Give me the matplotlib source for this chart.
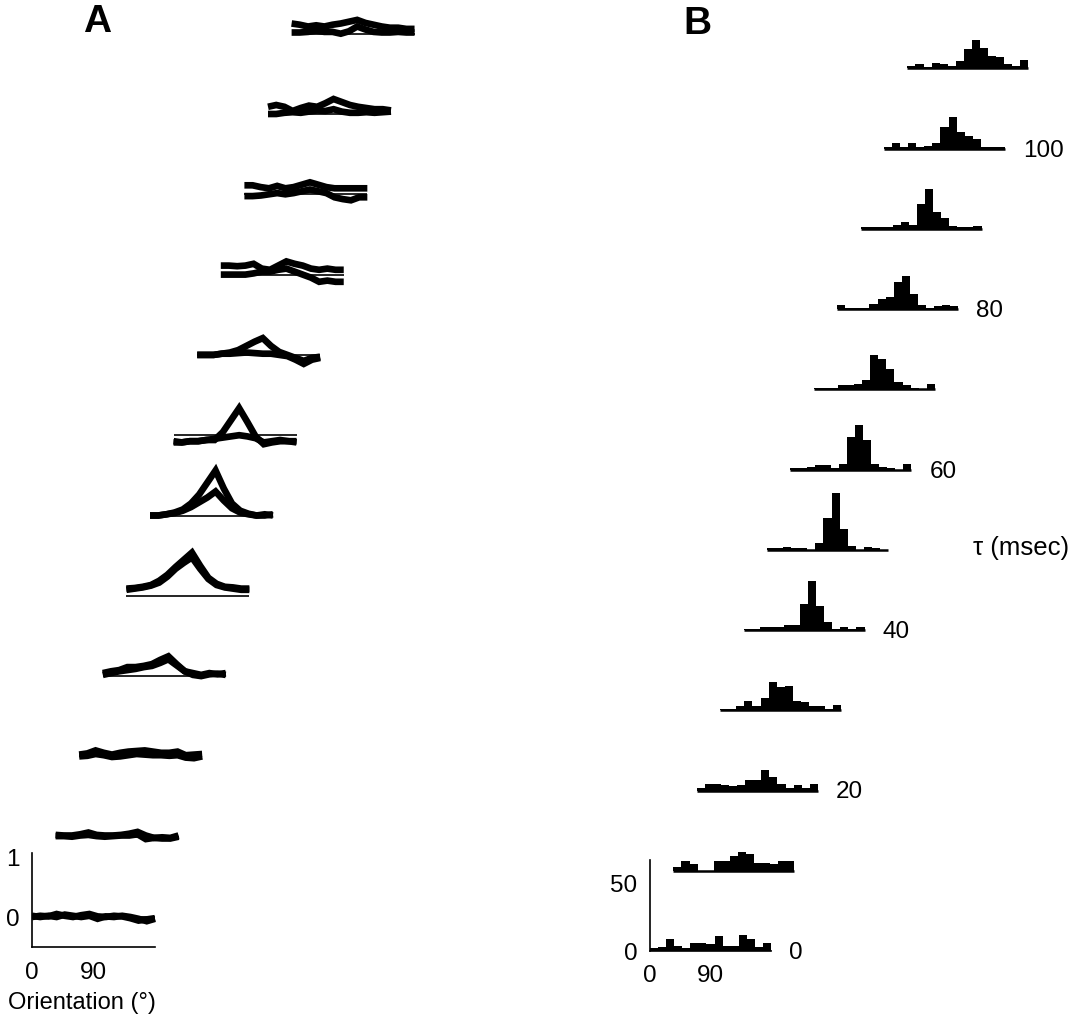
import numpy as np
import matplotlib
matplotlib.use("Agg")
import matplotlib.pyplot as plt

plt.rcParams['font.family'] = ['Liberation Sans', 'DejaVu Sans']

# ---------------------------------------------------------------- data
delays = [0, 10, 20, 30, 40, 50, 60, 70, 80, 90, 100, 110]      # msec
orient = np.arange(0, 181, 12)                                  # deg

# Panel A: normalised orientation tuning at each delay (two curves)
tuning_1 = [
    [0.00, 0.02, 0.01, 0.05, 0.02, 0.00, 0.03, 0.05, 0.01, 0.00, 0.02, 0.01, -0.02, -0.06, -0.04, -0.02],
    [0.03, 0.02, 0.02, 0.04, 0.07, 0.03, 0.02, 0.02, 0.03, 0.05, 0.08, 0.02, -0.02, -0.01, -0.02, 0.02],
    [0.03, 0.05, 0.10, 0.06, 0.03, 0.06, 0.08, 0.09, 0.10, 0.08, 0.06, 0.06, 0.08, 0.02, 0.03, 0.04],
    [0.05, 0.08, 0.10, 0.15, 0.15, 0.17, 0.20, 0.27, 0.33, 0.20, 0.08, 0.05, 0.02, 0.05, 0.03, 0.05],
    [0.12, 0.13, 0.15, 0.18, 0.25, 0.35, 0.48, 0.60, 0.72, 0.50, 0.30, 0.20, 0.15, 0.14, 0.12, 0.12],
    [0.00, 0.00, 0.02, 0.05, 0.10, 0.20, 0.35, 0.55, 0.75, 0.45, 0.20, 0.08, 0.03, 0.00, 0.02, 0.00],
    [-0.12, -0.12, -0.10, -0.10, -0.08, -0.08, 0.05, 0.25, 0.45, 0.22, -0.02, -0.15, -0.12, -0.10, -0.10, -0.12],
    [0.00, 0.00, 0.00, 0.02, 0.04, 0.08, 0.15, 0.22, 0.28, 0.15, 0.05, 0.00, -0.05, -0.10, -0.05, -0.03],
    [0.15, 0.15, 0.14, 0.15, 0.18, 0.10, 0.08, 0.15, 0.22, 0.18, 0.15, 0.10, 0.08, 0.10, 0.08, 0.08],
    [0.15, 0.15, 0.12, 0.10, 0.14, 0.10, 0.12, 0.16, 0.20, 0.16, 0.12, 0.10, 0.10, 0.10, 0.10, 0.10],
    [0.12, 0.15, 0.12, 0.05, 0.10, 0.14, 0.12, 0.18, 0.25, 0.20, 0.15, 0.12, 0.10, 0.08, 0.08, 0.06],
    [0.17, 0.15, 0.12, 0.14, 0.12, 0.15, 0.17, 0.20, 0.23, 0.18, 0.15, 0.12, 0.10, 0.10, 0.08, 0.08],
]
tuning_2 = [
    [0.02, 0.00, 0.02, 0.00, 0.04, 0.02, 0.00, 0.02, -0.03, 0.01, 0.00, 0.02, 0.00, -0.03, -0.07, -0.03],
    [0.01, 0.01, 0.00, 0.02, 0.03, 0.01, 0.00, 0.01, 0.02, 0.02, 0.04, -0.04, -0.02, -0.03, -0.03, 0.00],
    [0.00, 0.01, 0.04, 0.02, -0.01, 0.00, 0.02, 0.04, 0.03, 0.02, 0.02, 0.01, 0.02, -0.02, -0.03, 0.00],
    [0.02, 0.05, 0.08, 0.10, 0.12, 0.15, 0.17, 0.22, 0.28, 0.18, 0.08, 0.02, 0.00, 0.03, 0.04, 0.02],
    [0.10, 0.12, 0.14, 0.17, 0.22, 0.32, 0.45, 0.55, 0.64, 0.45, 0.28, 0.18, 0.14, 0.12, 0.10, 0.10],
    [0.00, 0.00, 0.02, 0.04, 0.08, 0.14, 0.22, 0.30, 0.40, 0.25, 0.12, 0.05, 0.02, 0.00, 0.00, 0.02],
    [-0.10, -0.12, -0.10, -0.10, -0.08, -0.06, -0.04, -0.02, 0.00, -0.02, -0.05, -0.12, -0.10, -0.08, -0.10, -0.10],
    [0.00, 0.00, 0.00, 0.02, 0.02, 0.03, 0.04, 0.03, 0.02, 0.02, 0.00, -0.02, -0.08, -0.15, -0.08, -0.05],
    [0.00, 0.00, 0.00, 0.00, 0.02, 0.05, 0.05, 0.08, 0.10, 0.05, 0.00, -0.05, -0.12, -0.10, -0.12, -0.12],
    [-0.03, -0.03, -0.02, 0.00, 0.02, 0.00, 0.02, 0.05, 0.08, 0.05, 0.02, -0.05, -0.08, -0.10, -0.05, -0.05],
    [0.00, 0.00, 0.02, 0.03, 0.02, 0.04, 0.06, 0.05, 0.08, 0.04, 0.02, 0.02, 0.03, 0.02, 0.03, 0.04],
    [0.02, 0.02, 0.03, 0.05, 0.03, 0.03, 0.00, 0.04, 0.12, 0.07, 0.03, 0.02, 0.02, 0.03, 0.02, 0.02],
]

# Panel B: histogram of preferred orientation at each delay
bin_left = np.arange(0, 180, 12)
bin_width = 12
counts = [
    [2, 3, 9, 4, 2, 6, 6, 5, 11, 4, 4, 12, 9, 3, 6],
    [3, 7, 5, 0, 0, 7, 7, 11, 14, 12, 6, 6, 5, 7, 7],
    [2, 5, 5, 4, 3, 4, 8, 8, 15, 10, 5, 2, 4, 2, 5],
    [1, 1, 3, 7, 3, 9, 21, 17, 18, 7, 6, 3, 3, 1, 4],
    [1, 1, 2, 2, 2, 4, 4, 19, 36, 18, 6, 1, 2, 1, 2],
    [1, 1, 2, 1, 1, 0, 5, 23, 42, 15, 3, 0, 2, 1, 0],
    [1, 1, 2, 3, 3, 1, 4, 24, 33, 22, 4, 2, 1, 0, 4],
    [1, 1, 1, 3, 3, 4, 7, 25, 22, 15, 5, 3, 1, 0, 4],
    [3, 1, 1, 1, 4, 7, 9, 20, 24, 11, 3, 1, 2, 3, 2],
    [1, 1, 1, 1, 3, 5, 3, 18, 29, 12, 8, 2, 1, 1, 2],
    [1, 4, 1, 4, 1, 2, 4, 16, 23, 12, 9, 7, 1, 1, 1],
    [2, 3, 1, 4, 3, 2, 5, 14, 21, 15, 9, 8, 3, 2, 6],
]
delay_labels = {0: "0", 20: "20", 40: "40", 60: "60", 80: "80", 100: "100"}

# ---------------------------------------------------------------- layout
W, H, DPI = 1087, 1026, 100
fig = plt.figure(figsize=(W / DPI, H / DPI), dpi=DPI)
fig.patch.set_facecolor('white')

TICK_FS = 17.5


def place_axes(x0, y0, sx, sy, left, right, top, bottom):
    """Axes whose data origin sits at pixel (x0, y0) with sx px/unit in x
    and sy px/unit in y; the box spans the given pixel edges."""
    ax = fig.add_axes([left / W, 1 - bottom / H, (right - left) / W, (bottom - top) / H])
    ax.set_xlim((left - x0) / sx, (right - x0) / sx)
    ax.set_ylim((y0 - bottom) / sy, (y0 - top) / sy)
    ax.set_facecolor('none')
    for s in ('top', 'right'):
        ax.spines[s].set_visible(False)
    for s in ('left', 'bottom'):
        ax.spines[s].set_linewidth(1.2)
    return ax


# ---- panel A: stacked tuning curves
SXA, SYA = 0.683, 60.0            # px per degree, px per unit
axA = place_axes(32, 917, SXA, SYA, left=32, right=440, top=0, bottom=947)
DXA, DYA = 23.6 / SXA, 80.3 / SYA  # shift between successive delays

for k, tau in enumerate(delays):
    ox, oy = k * DXA, k * DYA
    axA.plot([ox, ox + 180], [oy, oy], color='k', lw=1.2, solid_capstyle='butt')
    for curve in (tuning_1[k], tuning_2[k]):
        axA.plot(orient + ox, np.asarray(curve) + oy, color='k', lw=4.8,
                 solid_capstyle='butt', solid_joinstyle='miter')

axA.spines['left'].set_bounds(-0.5, 1.07)
axA.spines['bottom'].set_bounds(0, 180)
axA.set_xticks([0, 90])
axA.set_yticks([0, 1])
axA.tick_params(axis='both', length=0, labelsize=TICK_FS)
axA.tick_params(axis='x', pad=11)
axA.tick_params(axis='y', pad=9)
fig.text(82 / W, 1 - 1003 / H, "Orientation (°)", ha='center', va='center', fontsize=17)

# ---- panel B: stacked histograms
SXB, SYB = 0.672, 1.36            # px per degree, px per count
axB = place_axes(650, 951, SXB, SYB, left=650, right=1085, top=0, bottom=951)
DXB, DYB = 23.4 / SXB, 80.25 / SYB

for k, tau in enumerate(delays):
    ox, oy = k * DXB, k * DYB
    axB.bar(bin_left + ox, counts[k], width=bin_width, bottom=oy, align='edge',
            color='k', linewidth=0)
    axB.plot([ox, ox + 180], [oy, oy], color='k', lw=1.8, solid_capstyle='butt')
    if tau in delay_labels:
        axB.text(ox + 180 + 27, oy - 2 / SYB, delay_labels[tau], ha='left', va='center',
                 fontsize=TICK_FS)

k50 = delays.index(50)
axB.text(k50 * DXB + 180 + 85 / SXB, k50 * DYB + 2 / SYB, "τ (msec)",
         ha='left', va='center', fontsize=18.5)

axB.spines['left'].set_bounds(0, 67)
axB.spines['bottom'].set_bounds(0, 180)
axB.set_xticks([0, 90])
axB.set_yticks([0, 50])
axB.tick_params(axis='both', length=0, labelsize=TICK_FS)
axB.tick_params(axis='x', pad=10)
axB.tick_params(axis='y', pad=9)

# panel letters
fig.text(97 / W, 1 - 22 / H, "A", ha='center', va='center', fontsize=28, fontweight='bold')
fig.text(697 / W, 1 - 24 / H, "B", ha='center', va='center', fontsize=28, fontweight='bold')

fig.savefig("out.png", dpi=DPI, facecolor='white')
